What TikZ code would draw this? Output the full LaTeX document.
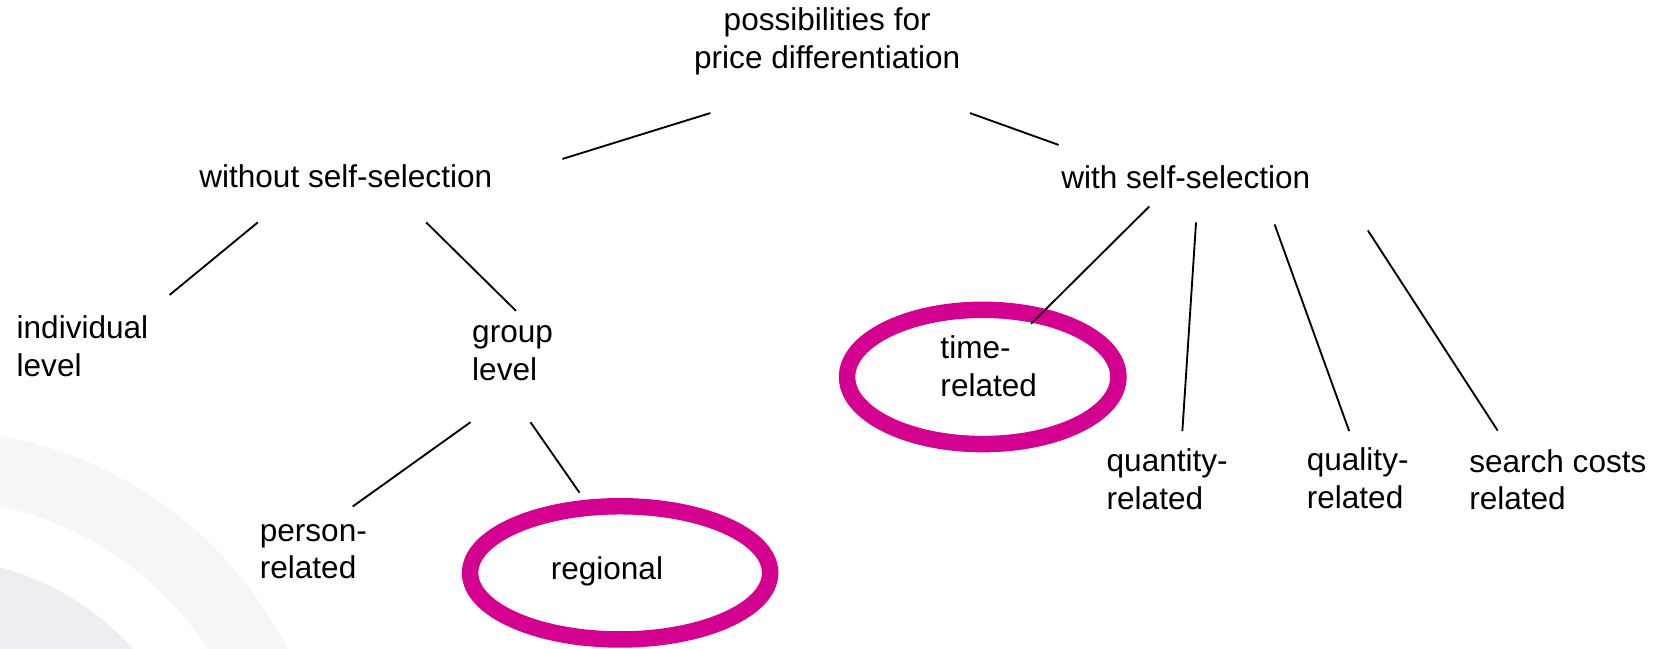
\documentclass[tikz,border=0pt]{standalone}
\usepackage{fontspec}
\setmainfont{Liberation Sans}
\usepackage{tikz}
\usetikzlibrary{calc,shapes.geometric}
\definecolor{ringmag}{RGB}{212,0,143}
\definecolor{wmlight}{RGB}{245,246,248}
\definecolor{wmdark}{RGB}{236,238,241}
\tikzset{
  lbl/.style={anchor=north west, align=left, inner sep=0pt, font=\fontsize{8.45}{10.07}\selectfont,
    execute at begin node=\strut, execute at end node=\strut},
  ring/.style={draw=ringmag, line width=0.155cm, ellipse, inner sep=0pt, outer sep=0pt},
  link/.style={line width=0.5pt}
}

\begin{document}
\begin{tikzpicture}[x=0.01cm, y=-0.01cm]
\useasboundingbox (0,0) rectangle (1568,611.2);
\fill[white] (0,0) rectangle (1568,611.2);
\begin{scope}
\clip (0,0) rectangle (1568,611.2);
\fill[wmlight, even odd rule] (-65,781) circle (376) (-65,781) circle (311);
\fill[wmdark, even odd rule] (-65,781) circle (255) (-65,781) circle (150);
\end{scope}

\node[ring, minimum width=2.554cm, minimum height=1.264cm] (timering) at (925.5,355) {};
\node[ring, minimum width=2.824cm, minimum height=1.254cm] (regring) at (584,539.5) {};

\node[lbl, anchor=north, align=center] (root) at (779,6.7) {possibilities for\\price differentiation};
\node[lbl] (wo) at (187,151) {without self-selection};
\node[lbl] (wi) at (998.8,151.6) {with self-selection};
\node[lbl] (ind) at (15,297) {individual\\level};
\node[lbl] (grp) at (444,306) {group\\level};
\node[lbl] (pers) at (244,493) {person-\\related};
\node[lbl] (reg) at (518,520.7) {regional};
\node[lbl] (time) at (885,315.8) {time-\\related};
\node[lbl] (quan) at (1041.5,422) {quantity-\\related};
\node[lbl] (qual) at (1230,421) {quality-\\related};
\node[lbl] (srch) at (1383,422.5) {search costs\\related};

\draw[link] ([shift={(-110,30.8)}]root.south) -- ([shift={(65.4,-1.3)}]wo.north east);
\draw[link] ([shift={(134.4,30.8)}]root.south) -- ([shift={(-1.8,-15.1)}]wi.north west);
\draw[link] ([shift={(-82.8,21.6)}]wo.south) -- ([shift={(19.4,-19.2)}]ind.north east);
\draw[link] ([shift={(75.7,21.6)}]wo.south) -- ([shift={(3.3,-13.2)}]grp.north);
\draw[link] ([shift={(-39.6,28.2)}]grp.south) -- ([shift={(37.1,-16)}]pers.north);
\draw[link] ([shift={(16.9,28.2)}]grp.south) -- ([shift={(-38.3,-12.8)}]regring.north);
\draw[link] ([shift={(-34.4,6)}]wi.south) -- ([shift={(45.5,13.2)}]timering.north);
\draw[link] ([shift={(9.6,21)}]wi.south) -- ([shift={(14.3,-16)}]quan.north);
\draw[link] ([shift={(83.6,23)}]wi.south) -- ([shift={(-8,-15)}]qual.north);
\draw[link] ([shift={(171.4,28.6)}]wi.south) -- ([shift={(-56.7,-17)}]srch.north);
\end{tikzpicture}
\end{document}
